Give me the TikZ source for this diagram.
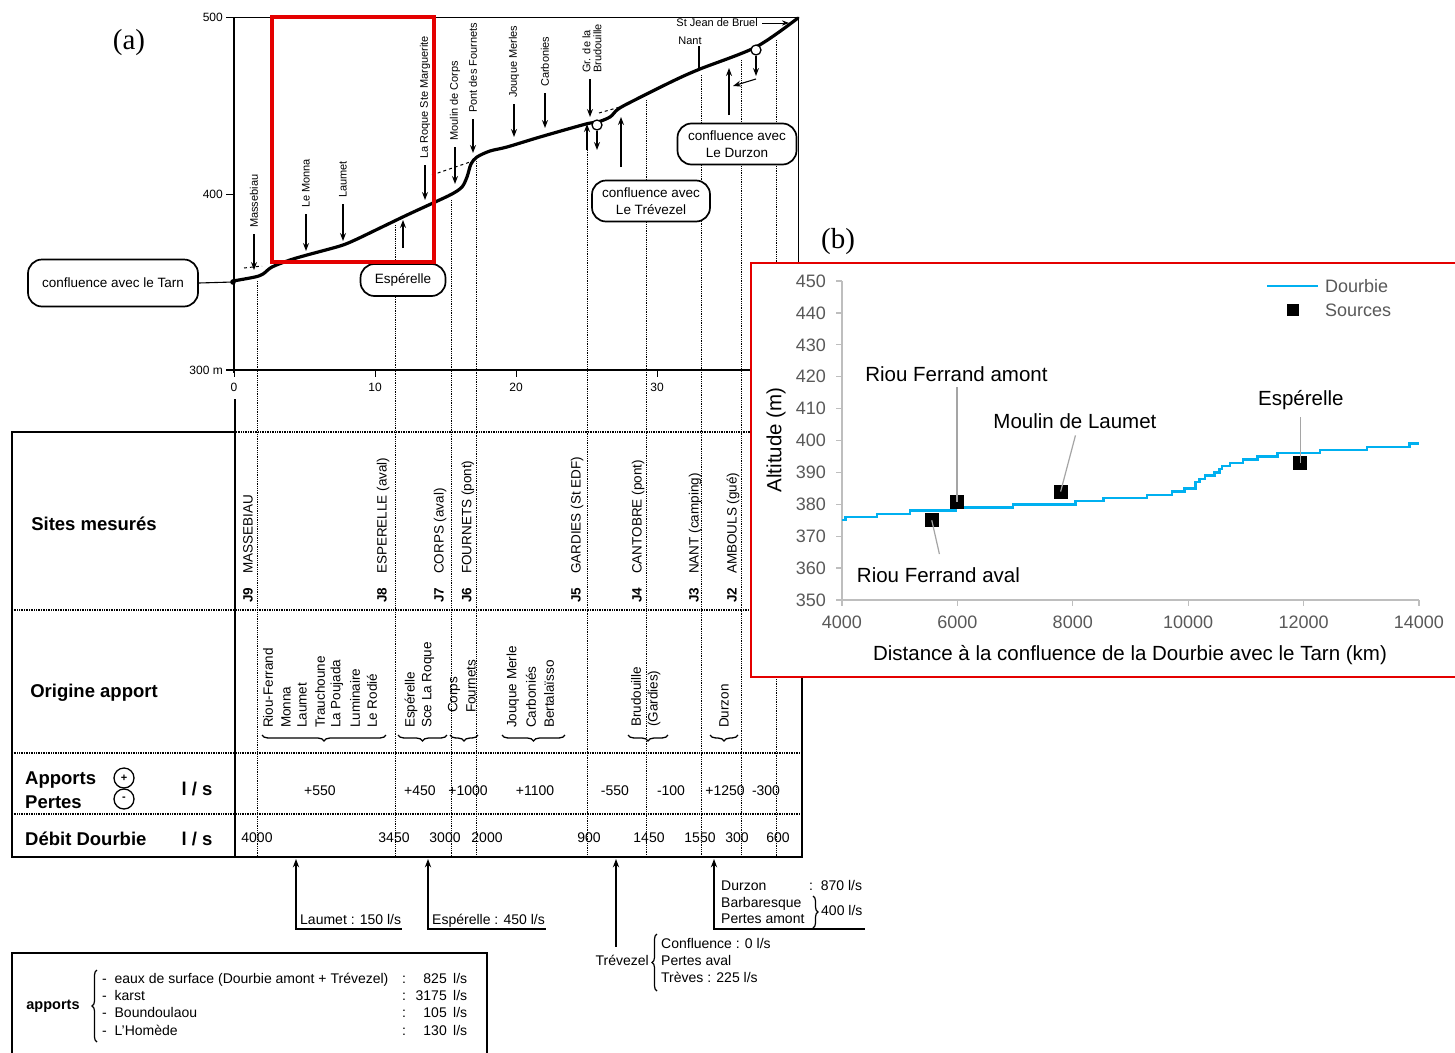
\documentclass[tikz,border=0pt]{standalone}
\usepackage{fontspec}
\setmainfont{Liberation Sans}
\newfontfamily\panelfont{Liberation Serif}
\usetikzlibrary{arrows.meta,decorations.pathreplacing}
\definecolor{framered}{RGB}{228,0,0}
\definecolor{riverblue}{RGB}{0,176,240}
\definecolor{axisgray}{RGB}{190,190,190}
\definecolor{ticktext}{RGB}{89,89,89}
\definecolor{leadergray}{RGB}{165,165,165}
\tikzset{
  profile/.style={line width=3.2pt, line join=round, line cap=round},
  siteline/.style={line width=0.8pt, dash pattern=on 0.9pt off 0.9pt},
  rowline/.style={line width=1.3pt, dash pattern=on 1pt off 0.7pt},
  flow/.style={->, line width=1.1pt},
  feed/.style={flow, shorten <=5pt},
  sitelbl/.style={rotate=90, anchor=west, inner sep=1pt, font=\fontsize{11}{11}\selectfont},
  junction/.style={circle, draw, fill=white, line width=1.3pt, minimum size=10pt, inner sep=0pt},
  callout/.style={draw, fill=white, line width=1.7pt, rounded corners=14pt, align=center, inner sep=2pt, font=\fontsize{13.5}{17}\selectfont},
  rowhead/.style={font=\bfseries\fontsize{18.5}{21}\selectfont},
  station/.style={rotate=90, anchor=west, inner sep=0pt, font=\fontsize{13.5}{15}\selectfont},
  origin/.style={rotate=90, anchor=west, inner sep=0pt, font=\fontsize{13.5}{15}\selectfont},
  cellval/.style={font=\fontsize{14}{16}\selectfont},
  groupbrace/.style={decorate, decoration={brace, amplitude=6pt}, line width=1.3pt},
  notebrace/.style={decorate, decoration={brace, amplitude=5pt}, line width=1.2pt},
  note/.style={inner sep=1pt, text height=10pt, text depth=3pt, font=\fontsize{14}{16}\selectfont},
  pmcirc/.style={circle, draw, line width=1.3pt, minimum size=20pt, inner sep=0pt, font=\bfseries\fontsize{11}{11}\selectfont},
  chartlbl/.style={font=\fontsize{20.5}{24}\selectfont},
  ticklbl/.style={text=ticktext, inner sep=0pt, font=\fontsize{18}{21}\selectfont},
  leader/.style={leadergray, line width=1.2pt},
  source/.style={fill=black, minimum size=14pt, inner sep=0pt},
}

\begin{document}
\begin{tikzpicture}[x=1pt, y=-1pt, >=Stealth]
  \useasboundingbox (0,0) rectangle (1455,1052);

  % ===== (a) longitudinal profile =====
  \node[font=\panelfont\fontsize{29}{32}\selectfont] (lblA) at (129,43) {(a)};

  % frame and axes
  \draw[line width=0.9pt] (226,17) -- (798,17) -- (798,432);
  \draw[line width=1.1pt] (234,17) -- (234,373);
  \draw[line width=1.1pt] (226,370) -- (798,370);
  \foreach \nm/\yy/\lab in {ya/17/500, yb/194/400, yc/370/{300 m}} {
    \draw[line width=0.9pt] (226,\yy) -- (234,\yy);
    \node[anchor=east, inner sep=1pt, font=\fontsize{12}{14}\selectfont] (\nm) at (224,\yy) {\lab};
  }
  \foreach \k in {0,10,20,30} {
    \draw[line width=0.9pt] (234+14.1*\k,370) -- (234+14.1*\k,377);
    \node[font=\fontsize{12}{14}\selectfont] (xk\k) at (234+14.1*\k,387) {\k};
  }

  % measuring sites, down through the table
  \foreach \xx/\ys in {257/281, 395/225, 451/200, 476/161, 587/150, 646/100, 701/75, 741/60, 776/40}
    \draw[siteline] (\xx,\ys) -- (\xx,857);

  % river bed
  \draw[profile] plot[smooth, tension=0.5] coordinates {(233,281) (255,277) (263,274) (272,267)
    (290,260) (307,255) (340,246) (355,240) (380,228) (407,215) (433,203) (452,194) (462,187)
    (467,177) (471,164) (477,157) (490,151) (507,147) (540,137) (586,124) (598,122) (610,117)
    (617,110) (627,104) (673,81) (700,69) (756,47) (798,18)};
  \coordinate (tarnDot) at (233,282);
  \fill (tarnDot) circle (2.8);
  % perched stretches
  \draw[dashed, line width=1pt] (244,268) -- (262,266);
  \draw[dashed, line width=1pt] (432,175) -- (470,162);
  \draw[dashed, line width=1pt] (599,113) -- (620,107);

  % tributaries and springs
  \foreach \nm/\xx/\ty/\ey/\txt in {masse/254/229/270/Massebiau, monna/306/209/251/Le Monna,
      laumet/343/199/241/Laumet, roque/425/160/200/La Roque Ste Marguerite,
      corps/455/142/184/Moulin de Corps, fourn/473/114/153/Pont des Fournets,
      jouque/514/99/137/Jouque Merles, carbo/545/88/128/Carbonies} {
    \node[sitelbl] (l\nm) at (\xx,\ty) {\txt};
    \coordinate (c\nm) at (\xx,\ey);
    \draw[feed] (l\nm.west) -- (c\nm);
  }
  \node[sitelbl, align=left] (lbrud) at (592,74) {Gr. de la\\Brudouille};
  \coordinate (cbrud) at (590,117);
  \draw[feed] (lbrud.west -| cbrud) -- (cbrud);
  \node[inner sep=1pt, font=\fontsize{11}{12}\selectfont] (lnant) at (690,41) {Nant};
  \coordinate (cnant) at (699,68);
  \draw[line width=1.1pt] (lnant.south -| cnant) -- (cnant);
  \node[anchor=east, inner sep=1pt, font=\fontsize{11}{12}\selectfont] (lsjb) at (759,23) {St Jean de Bruel};
  \coordinate (csjb) at (789,23);
  \draw[flow, line width=0.9pt, shorten <=3pt] (lsjb.east) -- (csjb);

  % confluences and losses
  \node[junction] (trevC) at (597,125) {};
  \node[junction] (durzC) at (756,50) {};
  \coordinate (trevOut) at (597,150);
  \draw[flow] (trevC) -- (trevOut);
  \coordinate (trevUpTail) at (587,150);
  \coordinate (trevUpHead) at (587,124);
  \draw[flow] (trevUpTail) -- (trevUpHead);
  \coordinate (brudUpTail) at (621,167);
  \coordinate (brudUpHead) at (621,117);
  \draw[flow] (brudUpTail) -- (brudUpHead);
  \coordinate (durzOut) at (756,76);
  \draw[flow] (durzC) -- (durzOut);
  \coordinate (durzKnee) at (756,79);
  \coordinate (durzBend) at (733,86);
  \draw[flow] (durzKnee) -- (durzBend);
  \coordinate (durzUpTail) at (729,115);
  \coordinate (durzUpHead) at (729,68);
  \draw[flow] (durzUpTail) -- (durzUpHead);
  \coordinate (espUpTail) at (403,248);
  \coordinate (espUpHead) at (403,220);
  \draw[flow] (espUpTail) -- (espUpHead);

  % callouts
  \node[callout, minimum width=170pt, minimum height=47pt] (boxTarn) at (113,283) {confluence avec le Tarn};
  \draw[line width=1.1pt] (boxTarn.east) -- (tarnDot);
  \node[callout, minimum width=85pt, minimum height=32pt] (boxEsp) at (403,280) {Espérelle};
  \node[callout, minimum width=118pt, minimum height=41pt] (boxTrev) at (651,201) {confluence avec\\Le Trévezel};
  \node[callout, minimum width=119pt, minimum height=41pt] (boxDurz) at (737,144) {confluence avec\\Le Durzon};

  % zoom window
  \draw[framered, line width=3.6pt] (272,17) rectangle (434,262);

  % ===== table =====
  \draw[line width=2.6pt] (236,432) -- (12,432) -- (12,857) -- (802,857) -- (802,432);
  \draw[rowline] (236,432) -- (802,432);
  \draw[line width=1.6pt] (235,399) -- (235,857);
  \foreach \yy in {610,753,814} \draw[rowline] (12,\yy) -- (802,\yy);

  % row heads
  \node[rowhead] (hSites) at (94,524) {Sites mesurés};
  \node[rowhead] (hOrig) at (94,693) {Origine apport};
  \node[rowhead, anchor=west, inner sep=0pt] (hApp) at (25,780) {Apports};
  \node[rowhead, anchor=west, inner sep=0pt] (hPer) at (25,802) {Pertes};
  \node[pmcirc] (cPlus) at (124,778) {+};
  \node[pmcirc] (cMinus) at (124,799) {-};
  \node[rowhead] (uApp) at (197,789) {l / s};
  \node[rowhead, anchor=west, inner sep=0pt] (hDeb) at (25,839) {Débit Dourbie};
  \node[rowhead] (uDeb) at (197,839) {l / s};

  % sites
  \foreach \nm/\xx/\jj/\txt in {j9/248/J9/MASSEBIAU, j8/383/J8/{ESPERELLE (aval)},
      j7/440/J7/{CORPS (aval)}, j6/468/J6/{FOURNETS (pont)}, j5/577/J5/{GARDIES (St EDF)},
      j4/638/J4/{CANTOBRE (pont)}, j3/695/J3/{NANT (camping)}, j2/733/J2/{AMBOULS (gué)}}
    \node[station] (\nm) at (\xx,603) {\textbf{\jj}\hspace{14pt}\txt};

  % origin of the inflows
  \foreach \nm/\xx/\yy/\txt in {o1/268/728/Riou-Ferrand, o2/286/728/Monna, o3/302/728/Laumet,
      o4/320/728/Trauchoune, o5/337/728/La Poujada, o6/355/728/Luminaire, o7/372/728/Le Rodié,
      o8/411/728/Espérelle, o9/428/728/Sce La Roque, o10/454/713/Corps, o11/471/713/Fournets,
      o12/513/728/Jouque Merle, o13/531/728/Carboniés, o14/549/728/Bertalaïsso,
      o15/636/727/Brudouille, o16/654/727/(Gardies), o17/724/728/Durzon}
    \node[origin] (\nm) at (\xx,\yy) {\txt};
  \foreach \xa/\xb in {386/262, 447/398, 478/450, 565/502, 668/628, 738/710}
    \draw[groupbrace] (\xa,735) -- (\xb,735);

  % inflows / losses and discharge
  \foreach \nm/\xx/\v in {a1/320/+550, a2/420/+450, a3/468/+1000, a4/535/+1100,
      a5/615/-550, a6/671/-100, a7/725/+1250, a8/766/-300}
    \node[cellval] (\nm) at (\xx,791) {\v};
  \foreach \nm/\xx/\v in {d1/257/4000, d2/394/3450, d3/445/3000, d4/487/2000, d5/589/900,
      d6/649/1450, d7/700/1550, d8/737/300, d9/778/600}
    \node[cellval] (\nm) at (\xx,838) {\v};

  % ===== notes under the table =====
  \node[note, anchor=south west] (qLaumet) at (299,929) {Laumet : 150 l/s};
  \coordinate (inLaumet) at (296,859);
  \draw[flow, line width=1.2pt, <-] (inLaumet) |- (qLaumet.south east);
  \node[note, anchor=south west] (qEsp) at (431,929) {Espérelle : 450 l/s};
  \coordinate (inEsp) at (428,859);
  \draw[flow, line width=1.2pt, <-] (inEsp) |- (qEsp.south east);

  % Trevezel
  \coordinate (inTrev) at (616,859);
  \coordinate (trevTail) at (616,947);
  \draw[flow, line width=1.2pt, <-] (inTrev) -- (trevTail);
  \node[note, anchor=east] (qTrev) at (650,962) {Trévezel};
  \foreach \nm/\yy/\txt in {qTrevA/945/{Confluence : 0 l/s}, qTrevB/962/Pertes aval, qTrevC/979/{Trèves : 225 l/s}}
    \node[note, anchor=west] (\nm) at (660,\yy) {\txt};
  \draw[notebrace] (657,991) -- (657,934);

  % Durzon
  \coordinate (inDurz) at (714,859);
  \coordinate (durzEnd) at (865,929);
  \draw[flow, line width=1.2pt, <-] (inDurz) |- (durzEnd);
  \foreach \nm/\yy/\txt in {qDurz/887/Durzon, qBarb/904/Barbaresque, qPertes/920/Pertes amont}
    \node[note, anchor=west] (\nm) at (720,\yy) {\txt};
  \node[note, anchor=west] (qDurzVal) at (808,887) {:\ \ 870 l/s};
  \draw[notebrace] (813,896) -- (813,928);
  \node[note, anchor=west] (qBarbVal) at (820,912) {400 l/s};

  % summary box
  \draw[line width=1.8pt] (12,1064) -- (12,953) -- (487,953) -- (487,1064);
  \node[font=\bfseries\fontsize{14.5}{17}\selectfont] (sApports) at (53,1006) {apports};
  \draw[notebrace] (97,1042) -- (97,970);
  \foreach \nm/\yy/\txt/\q in {sEaux/980/{eaux de surface (Dourbie amont + Trévezel)}/825,
      sKarst/997/karst/3175, sBound/1014/Boundoulaou/105, sHomede/1032/L'Homède/130} {
    \node[note, anchor=west] (\nm) at (101,\yy) {-\ \ \txt};
    \node[note] (\nm C) at (404,\yy) {:};
    \node[note, anchor=east] (\nm Q) at (448,\yy) {\q};
    \node[note, anchor=west] (\nm U) at (452,\yy) {l/s};
  }

  % ===== (b) Dourbie profile from the DEM =====
  \fill[white] (751,263) rectangle (1470,677);
  \draw[framered, line width=1.5pt] (1470,263) -- (751,263) -- (751,677) -- (1470,677);
  \node[font=\panelfont\fontsize{29}{32}\selectfont] (lblB) at (838,242) {(b)};

  \begin{scope}[shift={(611.2,1716.5)}, x=0.0577pt, y=3.19pt]
    % axes
    \draw[axisgray, line width=1.3pt] (4000,450) -- (4000,350) -- (14000,350);
    \foreach \a in {350,360,...,450} {
      \draw[axisgray, line width=1.3pt] (4000,\a) -- ++(-6pt,0pt);
      \node[ticklbl, anchor=east] (yt\a) at ([xshift=-16pt]4000,\a) {\a};
    }
    \foreach \d in {4000,6000,...,14000} {
      \draw[axisgray, line width=1.3pt] (\d,350) -- ++(0pt,-6pt);
      \node[ticklbl, anchor=north] (xt\d) at ([yshift=-16pt]\d,350) {\d};
    }

    % river line
    \draw[riverblue, line width=2.4pt] plot[const plot] coordinates {(4000,375) (4060,376)
      (4610,377) (5180,378) (5970,379) (6960,380) (8050,381) (8530,382) (9290,383) (9720,384)
      (9940,385) (10130,387) (10200,388) (10290,389) (10460,390) (10540,391) (10590,392)
      (10730,393) (10950,394) (11200,395) (11550,396) (12290,397) (13100,398) (13840,399)
      (14000,399)};

    % springs
    \node[source] (srcAval) at (5556,375) {};
    \node[source] (srcAmont) at (5992,380.6) {};
    \node[source] (srcLaumet) at (7790,384) {};
    \node[source] (srcEsp) at (11946,393) {};
    \node[chartlbl] (tAmont) at (5984,420.9) {Riou Ferrand amont};
    \node[chartlbl] (tLaumet) at (8038,406.1) {Moulin de Laumet};
    \node[chartlbl] (tEsp) at (11953,412.6) {Espérelle};
    \node[chartlbl] (tAval) at (5672,357.8) {Riou Ferrand aval};
    \coordinate (kAmont) at (5992,416.7);
    \coordinate (kLaumet) at (8047,401.6);
    \coordinate (kEsp) at (11946,407.3);
    \coordinate (kAval) at (5689,364.4);
    \draw[leader] (kAmont) -- (srcAmont.center);
    \draw[leader] (kLaumet) -- (srcLaumet.center);
    \draw[leader] (kEsp) -- (srcEsp.center);
    \draw[leader] (srcAval.center) -- (kAval);
  \end{scope}

  \node[chartlbl, rotate=90] (yTitle) at (776,440) {Altitude (m)};
  \node[chartlbl] (xTitle) at (1130,655) {Distance à la confluence de la Dourbie avec le Tarn (km)};

  % legend
  \coordinate (legA) at (1267,286);
  \coordinate (legB) at (1318,286);
  \draw[riverblue, line width=2.4pt] (legA) -- (legB);
  \node[ticklbl, anchor=west] (legDourbie) at (1325,286) {Dourbie};
  \node[source, minimum size=12pt] (legSrc) at (1293,310) {};
  \node[ticklbl, anchor=west] (legSources) at (1325,310) {Sources};
\end{tikzpicture}
\end{document}
